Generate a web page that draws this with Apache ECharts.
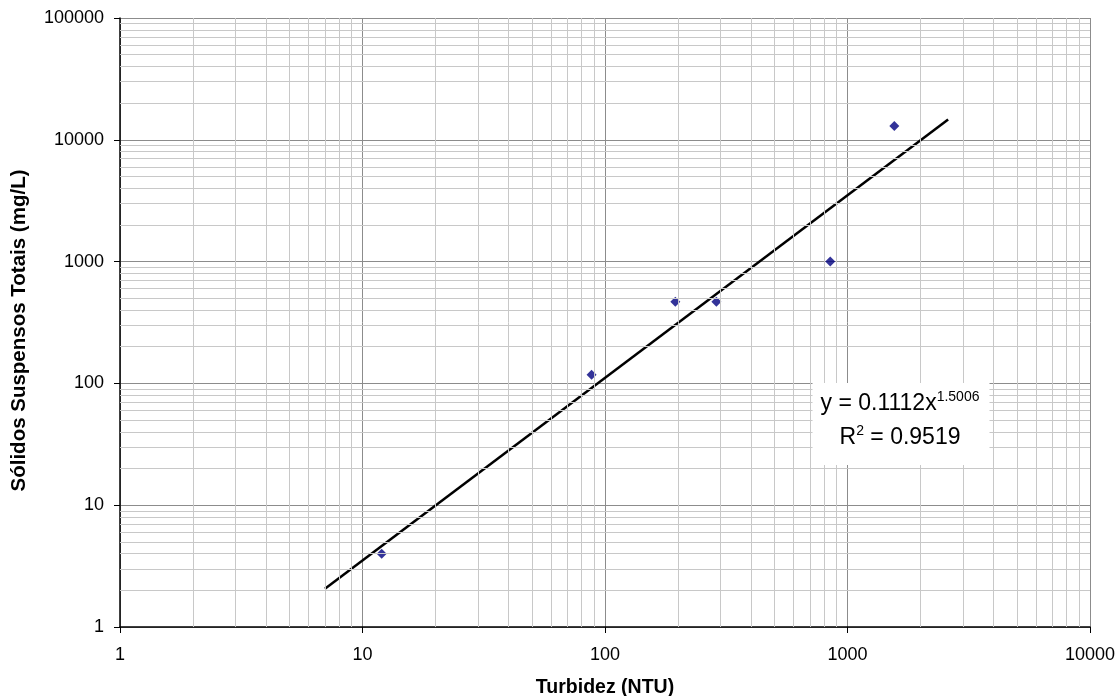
<!DOCTYPE html>
<html>
<head>
<meta charset="utf-8">
<script src="https://cdn.jsdelivr.net/npm/echarts@6/dist/echarts.min.js"></script>
<style>
  html, body { margin: 0; padding: 0; background: #fff; }
  #chart { width: 1117px; height: 696px; }
</style>
</head>
<body>
<div id="chart"></div>
<script>
// measured points: turbidity vs total suspended solids
let turbidez = [12, 88, 195, 288, 849, 1560];
let solidos = [4, 118, 468, 468, 1000, 13000];

// power trend line y = 0.1112x^1.5006, endpoints as drawn
let trendX = [7, 2600];
let trendY = [2.06, 14700];

let xDecades = [1, 10, 100, 1000];
let yDecades = [1, 10, 100, 1000, 10000];
let minorSteps = [2, 3, 4, 5, 6, 7, 8, 9];

let fontFam = '"Liberation Sans", Arial, sans-serif';

let minorLines = (decades, key) => {
  let out = [];
  decades.forEach(d => {
    minorSteps.forEach(m => {
      let o = {};
      o[key] = d * m;
      out.push(o);
    });
  });
  return out;
};

let logAxis = (min, max) => {
  return {
    type: 'log',
    logBase: 10,
    min: min,
    max: max,
    axisLine: { show: true, onZero: false, lineStyle: { color: '#000', width: 1.5 } },
    axisTick: { show: true, inside: false, length: 6, lineStyle: { color: '#000', width: 1 } },
    minorTick: { show: false },
    splitLine: { show: true, lineStyle: { color: '#8c8c8c', width: 1 } },
    axisLabel: {
      color: '#000', fontSize: 18, fontFamily: fontFam,
      formatter: (v) => String(Math.round(v))
    },
    nameLocation: 'middle',
    nameTextStyle: { color: '#000', fontSize: 19.5, fontWeight: 'bold', fontFamily: fontFam }
  };
};

let xAxis = logAxis(1, 10000);
xAxis.name = 'Turbidez (NTU)';
xAxis.nameGap = 51;
xAxis.axisLabel.margin = 19;

let yAxis = logAxis(1, 100000);
yAxis.name = 'Sólidos Suspensos Totais (mg/L)';
yAxis.nameGap = 90;
yAxis.axisLabel.margin = 16;
yAxis.nameTextStyle.fontSize = 20.5;
yAxis.nameTextStyle.padding = [0, 16, 0, 0];

let options = {
  animation: false,
  backgroundColor: '#fff',
  grid: { left: 120, top: 18, right: 27, bottom: 69, containLabel: false, outerBoundsMode: 'none' },
  xAxis: xAxis,
  yAxis: yAxis,
  series: [
    {
      // minor log gridlines
      type: 'line',
      data: [],
      z: 1,
      silent: true,
      markLine: {
        silent: true,
        symbol: ['none', 'none'],
        label: { show: false },
        lineStyle: { color: '#c8c8c8', width: 1, type: 'solid' },
        emphasis: { disabled: true },
        data: minorLines(xDecades, 'xAxis').concat(minorLines(yDecades, 'yAxis'))
      }
    },
    {
      type: 'line',
      data: trendX.map((x, i) => [x, trendY[i]]),
      showSymbol: false,
      symbol: 'none',
      z: 3,
      lineStyle: { color: '#000', width: 2.5 }
    },
    {
      type: 'scatter',
      data: turbidez.map((x, i) => [x, solidos[i]]),
      symbol: 'diamond',
      symbolSize: 10,
      z: 4,
      itemStyle: { color: '#000080' }
    }
  ],
  graphic: [{
    type: 'text',
    x: 901,
    y: 383,
    z: 10,
    style: {
      text: '{a|y = 0.1112x}{s|1.5006}\n{a|R}{s|2}{a| = 0.9519}',
      align: 'center',
      verticalAlign: 'top',
      backgroundColor: '#fff',
      padding: [4, 10, 10, 8],
      fill: '#000',
      rich: {
        a: { fontSize: 23, lineHeight: 34, fontFamily: fontFam, fill: '#000' },
        s: { fontSize: 14, lineHeight: 34, fontFamily: fontFam, verticalAlign: 'top', padding: [3, 0, 0, 0], fill: '#000' }
      }
    }
  }]
};

let chart = echarts.init(document.getElementById('chart'));
chart.setOption(options);
</script>
</body>
</html>
